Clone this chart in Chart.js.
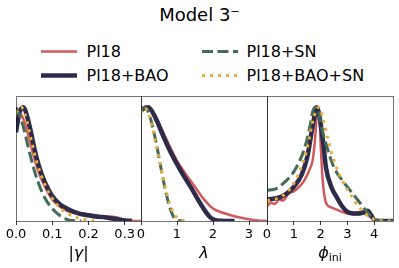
<!DOCTYPE html>
<html>
<head>
<meta charset="utf-8">
<script src="https://cdn.jsdelivr.net/npm/chart.js@4.4.1/dist/chart.umd.min.js"></script>
<style>
    body { margin: 0; background: #fff; }
    #wrap { position: relative; width: 399px; height: 268px; font-family: "DejaVu Sans", sans-serif; color: #000; }
    #wrap canvas { position: absolute; left: 0; top: 0; }
    .t { position: absolute; white-space: nowrap; line-height: 1; }
    .c { transform: translateX(-50%); }
    .m { font-style: italic; }
</style>
</head>
<body>
<div id="wrap">
    <div class="t" style="left:0;width:399px;text-align:center;top:6px;font-size:18px">Model 3⁻</div>

    <svg width="399" height="100" style="position:absolute;left:0;top:0">
        <line x1="41" x2="77" y1="51.5" y2="51.5" stroke="#d0595c" stroke-width="2.5"/>
        <line x1="41" x2="77" y1="75.5" y2="75.5" stroke="#2e2b4a" stroke-width="4.5"/>
        <line x1="202" x2="238" y1="51.5" y2="51.5" stroke="#436b56" stroke-width="3" stroke-dasharray="11 4.5"/>
        <line x1="202" x2="238" y1="75.5" y2="75.5" stroke="#e8ae40" stroke-width="3" stroke-dasharray="3 5"/>
    </svg>
    <div class="t" style="left:86.5px;top:44px;font-size:16px">Pl18</div>
    <div class="t" style="left:86.5px;top:68px;font-size:16px">Pl18+BAO</div>
    <div class="t" style="left:246.5px;top:44px;font-size:16px">Pl18+SN</div>
    <div class="t" style="left:246.5px;top:68px;font-size:16px">Pl18+BAO+SN</div>

    <canvas id="gammaChart" width="399" height="268"></canvas>
    <canvas id="lambdaChart" width="399" height="268"></canvas>
    <canvas id="phiChart" width="399" height="268"></canvas>

    <div class="t c" style="left:78.5px;top:244.5px;font-size:16px">|<span class="m">γ</span>|</div>
    <div class="t c" style="left:204px;top:244.5px;font-size:16px"><span class="m">λ</span></div>
    <div class="t c" style="left:330px;top:245px;font-size:16px"><span class="m">ϕ</span><span style="font-size:11px;position:relative;top:3px">ini</span></div>
</div>

<script>
// |gamma| panel
const gammaRedX = [0, 0.01, 0.02, 0.03, 0.04, 0.05, 0.06, 0.08, 0.10, 0.12, 0.14, 0.16, 0.18, 0.20, 0.22, 0.24, 0.26, 0.28, 0.30, 0.32, 0.345];
const gammaRedY = [0.97, 0.95, 0.90, 0.80, 0.68, 0.56, 0.45, 0.30, 0.19, 0.13, 0.09, 0.072, 0.065, 0.06, 0.05, 0.035, 0.04, 0.03, 0.012, 0.003, 0];
const gammaDarkX = [0, 0.005, 0.01, 0.015, 0.02, 0.025, 0.03, 0.04, 0.05, 0.06, 0.07, 0.08, 0.10, 0.12, 0.14, 0.16, 0.18, 0.20, 0.22, 0.24, 0.26, 0.28, 0.30, 0.32];
const gammaDarkY = [0.78, 0.88, 0.96, 0.99, 1.0, 0.98, 0.93, 0.80, 0.65, 0.52, 0.42, 0.34, 0.22, 0.15, 0.11, 0.08, 0.06, 0.05, 0.04, 0.035, 0.025, 0.015, 0.005, 0];
const gammaGreenX = [0, 0.01, 0.02, 0.03, 0.04, 0.05, 0.06, 0.08, 0.10, 0.12, 0.14, 0.16, 0.18];
const gammaGreenY = [1.0, 0.93, 0.83, 0.70, 0.57, 0.45, 0.35, 0.20, 0.11, 0.05, 0.015, 0.003, 0];
const gammaOrangeX = [0, 0.005, 0.01, 0.015, 0.02, 0.03, 0.04, 0.05, 0.06, 0.08, 0.10, 0.12, 0.14, 0.16, 0.18, 0.20, 0.22];
const gammaOrangeY = [0.95, 0.98, 1.0, 1.0, 0.98, 0.88, 0.74, 0.61, 0.49, 0.32, 0.20, 0.12, 0.07, 0.04, 0.02, 0.008, 0];

// lambda panel
const lambdaRedX = [0, 0.15, 0.3, 0.5, 0.75, 1.0, 1.25, 1.5, 1.75, 2.0, 2.25, 2.5, 2.75, 3.0, 3.25, 3.5];
const lambdaRedY = [0.98, 1.0, 0.97, 0.86, 0.69, 0.53, 0.41, 0.30, 0.19, 0.11, 0.075, 0.05, 0.03, 0.015, 0.005, 0];
const lambdaDarkX = [0, 0.1, 0.2, 0.4, 0.6, 0.8, 1.0, 1.2, 1.4, 1.6, 1.8, 1.9, 2.0, 2.1, 2.3, 2.6];
const lambdaDarkY = [0.97, 0.995, 1.0, 0.91, 0.76, 0.62, 0.50, 0.39, 0.29, 0.18, 0.08, 0.04, 0.015, 0.005, 0.001, 0];
const lambdaGreenX = [0, 0.1, 0.2, 0.3, 0.4, 0.5, 0.6, 0.7, 0.8, 0.9, 1.0, 1.1, 1.2];
const lambdaGreenY = [0.98, 1.0, 0.96, 0.86, 0.72, 0.56, 0.39, 0.24, 0.12, 0.04, 0.01, 0.002, 0];
const lambdaOrangeX = [0, 0.1, 0.2, 0.3, 0.4, 0.5, 0.6, 0.7, 0.8, 0.9, 1.0, 1.1, 1.2];
const lambdaOrangeY = [0.95, 1.0, 0.95, 0.84, 0.70, 0.55, 0.40, 0.26, 0.15, 0.07, 0.03, 0.01, 0];

// phi_ini panel
const phiRedX = [0, 0.15, 0.3, 0.45, 0.6, 0.8, 1.0, 1.2, 1.4, 1.6, 1.7, 1.8, 1.85, 1.9, 1.95, 2.0, 2.05, 2.1, 2.2, 2.4, 2.6, 2.8, 3.0, 3.3, 3.6, 3.8, 3.95, 4.1, 4.3, 4.7];
const phiRedY = [0.13, 0.16, 0.15, 0.19, 0.18, 0.24, 0.26, 0.30, 0.36, 0.46, 0.53, 0.74, 0.92, 0.99, 0.97, 0.68, 0.45, 0.30, 0.16, 0.12, 0.10, 0.08, 0.065, 0.06, 0.065, 0.045, 0.02, 0.005, 0, 0];
const phiDarkX = [0, 0.5, 1.0, 1.3, 1.5, 1.7, 1.8, 1.85, 1.95, 2.1, 2.2, 2.4, 2.6, 2.8, 3.0, 3.3, 3.6, 3.75, 3.9, 4.0, 4.2, 4.7];
const phiDarkY = [0.19, 0.21, 0.30, 0.41, 0.56, 0.83, 0.96, 1.0, 0.93, 0.68, 0.47, 0.30, 0.21, 0.13, 0.08, 0.065, 0.075, 0.09, 0.045, 0.01, 0, 0];
const phiGreenX = [0, 0.3, 0.6, 0.9, 1.2, 1.4, 1.6, 1.7, 1.8, 1.9, 2.0, 2.2, 2.5, 2.8, 3.1, 3.4, 3.7, 4.0, 4.2, 4.7];
const phiGreenY = [0.27, 0.28, 0.33, 0.40, 0.52, 0.64, 0.83, 0.96, 1.0, 0.99, 0.86, 0.68, 0.47, 0.36, 0.27, 0.18, 0.09, 0.015, 0, 0];
const phiOrangeX = [0, 0.5, 1.0, 1.3, 1.5, 1.7, 1.85, 1.95, 2.1, 2.3, 2.5, 2.8, 3.1, 3.4, 3.7, 4.0, 4.3, 4.7];
const phiOrangeY = [0.18, 0.21, 0.33, 0.49, 0.64, 0.87, 0.98, 1.0, 0.89, 0.70, 0.53, 0.36, 0.24, 0.13, 0.06, 0.015, 0, 0];

const RED = '#d0595c';
const DARK = '#2e2b4a';
const GREEN = '#436b56';
const ORANGE = '#e8ae40';

// box around each panel, drawn over the curves like matplotlib spines
const framePlugin = {
    id: 'frame',
    afterDatasetsDraw(chart) {
        const { ctx, chartArea: a } = chart;
        ctx.save();
        ctx.strokeStyle = 'rgba(0,0,0,0.55)';
        ctx.lineWidth = 1;
        ctx.strokeRect(Math.round(a.left) + 0.5, Math.round(a.top) + 0.5,
            Math.round(a.right) - Math.round(a.left), Math.round(a.bottom) - Math.round(a.top));
        ctx.restore();
    }
};

function series(xs, ys, color, width, dash, order) {
    return {
        data: xs.map((x, i) => ({ x, y: ys[i] })),
        borderColor: color,
        borderWidth: width,
        borderDash: dash,
        borderJoinStyle: 'round',
        pointRadius: 0,
        fill: false,
        cubicInterpolationMode: 'monotone',
        order
    };
}

function makePanel(id, left, right, xMax, step, fmt, datasets) {
    return new Chart(document.getElementById(id), {
        type: 'line',
        data: { datasets },
        options: {
            responsive: false,
            animation: false,
            events: [],
            layout: { padding: { left, right: 399 - right, top: 96, bottom: 0 } },
            plugins: { legend: { display: false }, tooltip: { enabled: false } },
            scales: {
                x: {
                    type: 'linear',
                    min: 0,
                    max: xMax,
                    afterFit: scale => { scale.height = 47; },
                    border: { display: false },
                    grid: { display: true, drawOnChartArea: false, drawTicks: true, tickLength: 4, color: '#333' },
                    ticks: {
                        stepSize: step,
                        includeBounds: false,
                        autoSkip: false,
                        maxRotation: 0,
                        padding: 2,
                        color: '#000',
                        font: { family: 'DejaVu Sans', size: 13 },
                        callback: fmt
                    }
                },
                y: { display: false, min: 0, max: 1.1 }
            }
        },
        plugins: [framePlugin]
    });
}

makePanel('gammaChart', 16, 141, 0.345, 0.1, v => v.toFixed(1), [
    series(gammaRedX, gammaRedY, RED, 2.5, [], 4),
    series(gammaDarkX, gammaDarkY, DARK, 4.5, [], 3),
    series(gammaGreenX, gammaGreenY, GREEN, 3, [11, 4.5], 2),
    series(gammaOrangeX, gammaOrangeY, ORANGE, 3, [3, 5], 1)
]);

makePanel('lambdaChart', 141, 267, 3.5, 1, v => v.toFixed(0), [
    series(lambdaRedX, lambdaRedY, RED, 2.5, [], 4),
    series(lambdaDarkX, lambdaDarkY, DARK, 4.5, [], 3),
    series(lambdaGreenX, lambdaGreenY, GREEN, 3, [11, 4.5], 2),
    series(lambdaOrangeX, lambdaOrangeY, ORANGE, 3, [3, 5], 1)
]);

makePanel('phiChart', 267, 393, 4.7, 1, v => v.toFixed(0), [
    series(phiRedX, phiRedY, RED, 2.5, [], 4),
    series(phiDarkX, phiDarkY, DARK, 4.5, [], 3),
    series(phiGreenX, phiGreenY, GREEN, 3, [11, 4.5], 2),
    series(phiOrangeX, phiOrangeY, ORANGE, 3, [3, 5], 1)
]);
</script>
</body>
</html>
